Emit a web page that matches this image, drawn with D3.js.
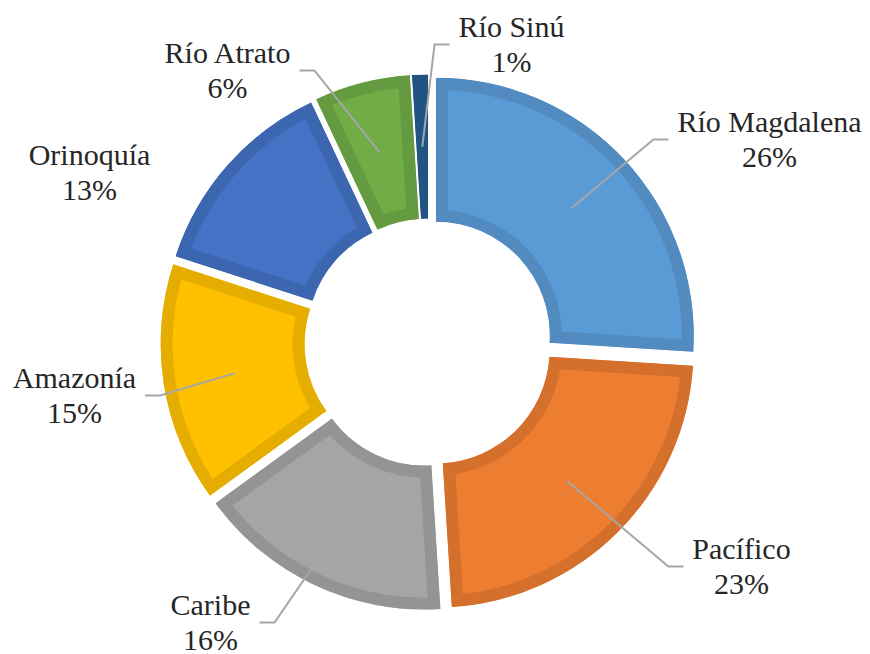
<!DOCTYPE html>
<html>
<head>
<meta charset="UTF-8">
<script src="https://d3js.org/d3.v7.min.js"></script>
<style>
  body { margin: 0; background: #fff; }
  .guia { fill: none; stroke: #a6a6a6; stroke-width: 2; }
</style>
</head>
<body>
<svg width="870" height="654"></svg>
<script>
const regiones = ["Río Magdalena", "Pacífico", "Caribe", "Amazonía", "Orinoquía", "Río Atrato", "Río Sinú"];
const porcentajes = [26, 23, 16, 15, 13, 6, 1];
const colores = ["#5B9BD5", "#ED7D31", "#A5A5A5", "#FFC000", "#4472C4", "#70AD47", "#255E91"];

// ubicación de cada etiqueta (centro x, línea base) respecto al centro del anillo
const etiquetaPos = [[341, -211], [313, 216], [-218, 272], [-354, 45], [-339, -178], [-201, -280], [83, -306]];
const conGuia = [true, true, true, true, false, true, true];

const cx = 428.5, cy = 342.5;
const rExt = 258, rInt = 114, separacion = 10, borde = 12;

const datos = regiones.map((r, i) => ({ region: r, valor: porcentajes[i], color: colores[i] }));

const svg = d3.select("svg");
const g = svg.append("g").attr("transform", `translate(${cx},${cy})`);

const pie = d3.pie().sort(null).value(d => d.valor);
const arc = d3.arc().innerRadius(rInt).outerRadius(rExt);
const arcos = pie(datos);

const defs = svg.append("defs");

// porciones separadas, con borde interior más oscuro
arcos.forEach((d, i) => {
    const medio = (d.startAngle + d.endAngle) / 2;
    const [dx, dy] = d3.pointRadial(medio, separacion);
    const id = "clip" + i;
    defs.append("clipPath").attr("id", id).append("path").attr("d", arc(d));
    g.append("path")
        .attr("transform", `translate(${dx},${dy})`)
        .attr("d", arc(d))
        .attr("fill", d.data.color)
        .attr("stroke", d3.rgb(d.data.color).darker(0.3))
        .attr("stroke-width", borde * 2)
        .attr("clip-path", `url(#${id})`);
});

// etiquetas: se centran a mano (sin text-anchor)
const anchos = arcos.map((d, i) => {
    const [lx, ly] = etiquetaPos[i];
    const lineas = [d.data.region, d.data.valor + "%"].map((s, k) =>
        svg.append("text")
            .attr("x", cx + lx)
            .attr("y", cy + ly + k * 35)
            .attr("fill", "#262626")
            .style("font-family", '"Liberation Serif"')
            .style("font-size", "30px")
            .text(s));
    const w = lineas.map(t => t.node().getComputedTextLength());
    lineas.forEach((t, k) => t.attr("x", cx + lx - w[k] / 2));
    return d3.max(w);
});

// líneas guía
arcos.forEach((d, i) => {
    if (!conGuia[i]) return;
    const [lx, ly] = etiquetaPos[i];
    const medio = (d.startAngle + d.endAngle) / 2;
    const [dx, dy] = d3.pointRadial(medio, separacion);
    const [px, py] = arc.centroid(d);
    const inicio = [px + dx, py + dy];
    const lado = lx > inicio[0] ? -1 : 1;
    const fin = [lx + lado * (anchos[i] / 2 + 9), ly + 8];
    const codo = [fin[0] + lado * 15, fin[1]];
    g.append("path").attr("class", "guia").attr("d", d3.line()([inicio, codo, fin]));
});
</script>
</body>
</html>
